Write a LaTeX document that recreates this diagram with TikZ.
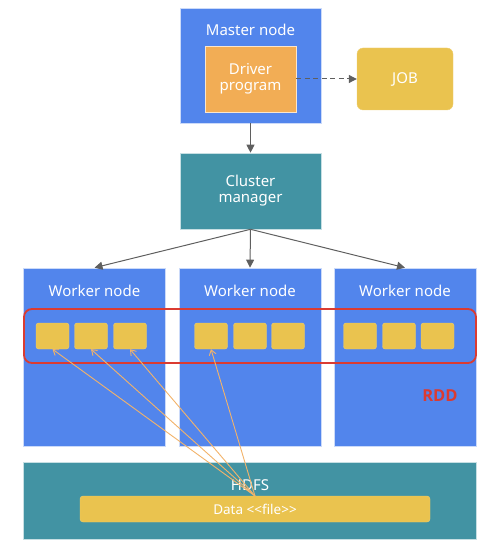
\documentclass[tikz,border=0pt]{standalone}
\usepackage{fontspec}
\setmainfont{Noto Sans}
\newfontfamily\rddfont{Open Sans}
\usetikzlibrary{positioning}
\usetikzlibrary{arrows.meta}
\definecolor{nodeblue}{HTML}{5285EC}
\definecolor{nodeteal}{HTML}{4293A3}
\definecolor{driverorange}{HTML}{F2AD55}
\definecolor{partyellow}{HTML}{EAC34F}
\definecolor{rddred}{HTML}{DB3B31}
\definecolor{arrowgray}{HTML}{5F5F5F}
\definecolor{readorange}{HTML}{F2B36A}

\begin{document}
\begin{tikzpicture}[x=1pt,y=-1pt,
  box/.style={draw=white!70!#1, line width=0.6pt, fill=#1, inner sep=0pt},
  txt/.style={text=white, font=\fontsize{15}{18}\selectfont, align=center},
  part/.style={fill=partyellow, draw=partyellow!80!white, rounded corners=2.5pt,
    minimum width=33pt, minimum height=26pt, inner sep=0pt},
  arr/.style={draw=arrowgray, line width=1pt, -{Triangle[length=8pt,width=8pt]}},
  readarr/.style={draw=readorange, line width=0.9pt, -{Straight Barb[length=5pt,width=7pt]}}]
  \useasboundingbox (0,0) rectangle (496,556);

  % Master node
  \node[box=nodeblue, minimum width=141pt, minimum height=115pt] (master) at (250.5,65.5) {};
  \node[txt] (mastertitle) at (250.5,30) {Master node};
  \node[box=driverorange, txt, minimum width=91pt, minimum height=66pt] (driver) at (250.5,79) {Driver\\[-2pt]program};
  \node[fill=partyellow, draw=partyellow!80!white, rounded corners=6pt, txt,
    minimum width=96pt, minimum height=62pt] (job) at (405,79) {JOB};
  \draw[arr, dash pattern=on 5pt off 3.5pt] (driver) -- (job);

  % Cluster manager
  \node[box=nodeteal, txt, minimum width=141pt, minimum height=76pt] (cluster) at (250.5,191) {Cluster\\[-2pt]manager};
  \draw[arr] (master) -- (cluster);

  % Worker nodes
  \node[box=nodeblue, minimum width=142pt, minimum height=178pt] (wleft) at (94.5,357) {};
  \node[box=nodeblue, minimum width=142pt, minimum height=178pt] (wmid) at (250,357) {};
  \node[box=nodeblue, minimum width=142pt, minimum height=178pt] (wright) at (405,357) {};
  \node[txt] (wlefttitle) at (94.5,291) {Worker node};
  \node[txt] (wmidtitle) at (250,291) {Worker node};
  \node[txt] (wrighttitle) at (405,291) {Worker node};
  \draw[arr] (cluster.south) -- (wleft.north);
  \draw[arr] (cluster.south) -- (wmid.north);
  \draw[arr] (cluster.south) -- (wright.north);

  % Partitions
  \node[part] (p1) at (52.5,336) {};
  \node[part] (p2) at (91,336) {};
  \node[part] (p3) at (130,336) {};
  \node[part] (p4) at (211,336) {};
  \node[part] (p5) at (250,336) {};
  \node[part] (p6) at (288,336) {};
  \node[part] (p7) at (360,336) {};
  \node[part] (p8) at (399,336) {};
  \node[part] (p9) at (437.5,336) {};

  % RDD
  \draw[rddred, line width=1.8pt, rounded corners=8pt] (24,309) rectangle (476,363);
  \node[text=rddred, font=\rddfont\fontsize{16.5}{19}\selectfont\bfseries] (rdd) at (440,396) {RDD};

  % HDFS
  \node[box=nodeteal, minimum width=453pt, minimum height=77pt] (hdfs) at (249.5,500.5) {};
  \node[txt] (hdfstitle) at (250,485) {HDFS};
  \node[fill=partyellow, draw=partyellow!80!white, rounded corners=3pt, txt,
    font=\fontsize{13.5}{15}\selectfont, minimum width=350pt, minimum height=26pt, inner sep=0pt] (data) at (255,509) {Data <{}<file>{}>};

  % Reads
  \coordinate (src) at (255,496);
  \draw[readarr] (src) -- (p1.south);
  \draw[readarr] (src) -- (p2.south);
  \draw[readarr] (src) -- (p3.south);
  \draw[readarr] (src) -- (p4.south);
\end{tikzpicture}
\end{document}
